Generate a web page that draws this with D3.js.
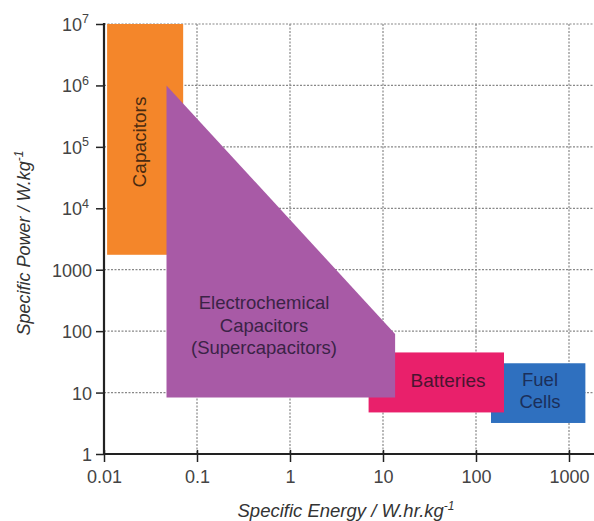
<!DOCTYPE html>
<html>
<head>
  <meta charset="utf-8">
  <title>Ragone plot</title>
  <script src="https://d3js.org/d3.v7.min.js"></script>
  <style>
    body { margin: 0; background: white; }
    svg { display: block; font-family: "Liberation Sans", Arial, sans-serif; }
  </style>
</head>
<body>
<div id="container"></div>
<script>
  // axis ticks
  var xTicks = [0.01, 0.1, 1, 10, 100, 1000];
  var xTickLabels = ["0.01", "0.1", "1", "10", "100", "1000"];
  var yTicks = [1, 10, 100, 1000, 1e4, 1e5, 1e6, 1e7];
  var yTickLabels = ["1", "10", "100", "1000", "10^4", "10^5", "10^6", "10^7"];

  // regions: [energy min, energy max] and [power min, power max]
  var capacitorsEnergy = [0.0108, 0.071];
  var capacitorsPower = [1750, 1e7];
  var batteriesEnergy = [7, 200];
  var batteriesPower = [4.75, 45];
  var fuelCellsEnergy = [145, 1500];
  var fuelCellsPower = [3.2, 30];
  // supercapacitors polygon, [energy, power]
  var supercapPoints = [[0.047, 1e6], [13.5, 90], [13.5, 8.3], [0.047, 8.3]];

  const width = 594,
  height = 521;

  var svg = d3.select("#container")
    .append("svg")
    .attr("width", width)
    .attr("height", height);

  var x = d3.scaleLog()
    .domain([0.01, 1000])
    .range([104, 569]);

  var y = d3.scaleLog()
    .domain([1, 1e7])
    .range([454, 24]);

  var right = width;

  // grid
  svg.append("g").selectAll("line")
    .data(yTicks.slice(1))
    .enter().append("line")
    .attr("x1", x(0.01)).attr("x2", right)
    .attr("y1", function(d){ return y(d); })
    .attr("y2", function(d){ return y(d); })
    .attr("stroke", "#888")
    .attr("stroke-width", 1.2)
    .attr("stroke-dasharray", "2,1.5");

  svg.append("g").selectAll("line")
    .data(xTicks.slice(1))
    .enter().append("line")
    .attr("x1", function(d){ return x(d); })
    .attr("x2", function(d){ return x(d); })
    .attr("y1", y(1e7)).attr("y2", y(1))
    .attr("stroke", "#888")
    .attr("stroke-width", 1.2)
    .attr("stroke-dasharray", "2,1.5");

  // regions
  function rect(en, pw, color) {
    svg.append("rect")
      .attr("x", x(en[0]))
      .attr("y", y(pw[1]))
      .attr("width", x(en[1]) - x(en[0]))
      .attr("height", y(pw[0]) - y(pw[1]))
      .attr("fill", color);
  }
  rect(capacitorsEnergy, capacitorsPower, "#f4862a");
  rect(fuelCellsEnergy, fuelCellsPower, "#2f70bf");
  rect(batteriesEnergy, batteriesPower, "#e9206b");

  svg.append("polygon")
    .attr("points", supercapPoints.map(function(d){ return x(d[0]) + "," + y(d[1]); }).join(" "))
    .attr("fill", "#a85aa6");

  // region labels
  svg.append("text")
    .attr("transform", "translate(146,142) rotate(-90)")
    .attr("text-anchor", "middle")
    .attr("font-size", 19)
    .attr("fill", "#4a2a10")
    .text("Capacitors");

  var sc = svg.append("text")
    .attr("text-anchor", "middle")
    .attr("font-size", 18.5)
    .attr("fill", "#3b2346");
  ["Electrochemical", "Capacitors", "(Supercapacitors)"].forEach(function(t, i){
    sc.append("tspan").attr("x", 264).attr("y", 309 + i * 22.5).text(t);
  });

  svg.append("text")
    .attr("x", 448).attr("y", 387)
    .attr("text-anchor", "middle")
    .attr("font-size", 19)
    .attr("fill", "#4a1430")
    .text("Batteries");

  var fc = svg.append("text")
    .attr("text-anchor", "middle")
    .attr("font-size", 18.5)
    .attr("fill", "#1b2f5a");
  ["Fuel", "Cells"].forEach(function(t, i){
    fc.append("tspan").attr("x", 540).attr("y", 386 + i * 21.5).text(t);
  });

  // axes
  var xAxis = svg.append("g")
    .attr("transform", "translate(0," + y(1) + ")")
    .call(d3.axisBottom(x).tickValues(xTicks).tickSizeInner(8).tickSizeOuter(0)
      .tickFormat(function(d, i){ return xTickLabels[i]; }));
  xAxis.select(".domain").remove();
  xAxis.selectAll(".tick line").attr("y1", -4).attr("stroke", "#222").attr("stroke-width", 1.5);
  xAxis.selectAll(".tick text")
    .attr("y", 16)
    .attr("font-size", 18)
    .attr("font-family", "Liberation Sans, Arial, sans-serif")
    .attr("fill", "#444");

  var yAxis = svg.append("g")
    .attr("transform", "translate(" + x(0.01) + ",0)")
    .call(d3.axisLeft(y).tickValues(yTicks).tickSizeInner(8).tickSizeOuter(0)
      .tickFormat(function(d, i){ return ""; }));
  yAxis.select(".domain").remove();
  yAxis.selectAll(".tick line").attr("stroke", "#222").attr("stroke-width", 1.5);
  yAxis.selectAll(".tick text")
    .attr("x", -12)
    .attr("dy", "0.36em")
    .attr("font-size", 18)
    .attr("font-family", "Liberation Sans, Arial, sans-serif")
    .attr("fill", "#444")
    .each(function(d, i){
      var parts = yTickLabels[i].split("^");
      var t = d3.select(this);
      t.append("tspan").text(parts[0]);
      if (parts[1]) {
        t.attr("x", -15);
        t.append("tspan").attr("font-size", 12.5).attr("dy", "-0.6em").text(parts[1]);
      }
    });

  // axis lines
  svg.append("line")
    .attr("x1", x(0.01)).attr("x2", x(0.01))
    .attr("y1", y(1e7) - 1).attr("y2", y(1) + 1)
    .attr("stroke", "#222").attr("stroke-width", 2.2);
  svg.append("line")
    .attr("x1", x(0.01)).attr("x2", right)
    .attr("y1", y(1)).attr("y2", y(1))
    .attr("stroke", "#222").attr("stroke-width", 2.2);

  // axis titles
  var yt = svg.append("text")
    .attr("transform", "translate(30,243) rotate(-90)")
    .attr("text-anchor", "middle")
    .attr("font-size", 18)
    .attr("font-style", "italic")
    .attr("fill", "#333");
  yt.append("tspan").text("Specific Power / W.kg");
  yt.append("tspan").attr("font-size", 12).attr("dy", "-0.6em").text("-1");

  var xt = svg.append("text")
    .attr("x", 346).attr("y", 517)
    .attr("text-anchor", "middle")
    .attr("font-size", 18.5)
    .attr("font-style", "italic")
    .attr("fill", "#333");
  xt.append("tspan").text("Specific Energy / W.hr.kg");
  xt.append("tspan").attr("font-size", 12).attr("dy", "-0.6em").text("-1");
</script>
</body>
</html>
